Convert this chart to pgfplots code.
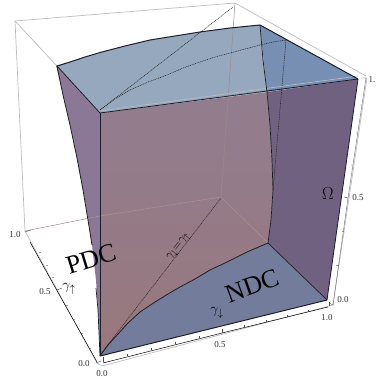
\documentclass[border=0pt]{standalone}
\usepackage{fontspec}
\setmainfont{Liberation Serif}
\usepackage{pgfplots}
\pgfplotsset{compat=1.18}
\definecolor{boxg}{RGB}{190,190,190}
\definecolor{topb}{RGB}{150,168,190}
\definecolor{topd}{RGB}{118,143,178}
\definecolor{leftp}{RGB}{138,120,150}
\definecolor{pinkA}{RGB}{146,125,143}
\definecolor{pinkB}{RGB}{152,120,125}
\definecolor{rightp}{RGB}{112,97,128}
\definecolor{floorb}{RGB}{115,125,155}
\definecolor{edge}{RGB}{30,30,40}
\begin{document}
\begin{tikzpicture}
\begin{axis}[scale only axis,width=377pt,height=380pt,xmin=0,xmax=377,ymin=0,ymax=380,y dir=reverse,
  axis lines=none,clip=false,unbounded coords=jump,tick style={draw=none}]
% page
\addplot[draw=none,fill=white,forget plot] coordinates {(0,0)(377,0)(377,380)(0,380)} --cycle;
% back box lines
\addplot[boxg,line width=.7pt] coordinates {(25,231)(15,21)(235,3)(366,76)};
\addplot[boxg,line width=.7pt] coordinates {(15,21)(57,66)};
% left face
\addplot[draw=none,fill=leftp] coordinates {(56,65)(100,113)(100,356)(98,310)(96,280)(92,245)(88,220)(83,190)(77,158)(70,125)(63,95)} --cycle;
% front pink
\addplot[draw=none,shade,top color=pinkA,bottom color=pinkB] coordinates {(100,113)(267,92)(270,125)(272,160)(273,190)(271,220)(268,243)(247,252)(225,263)(210,270)(195,279)(180,287)(168,294)(155,302)(140,312)(128,323)(118,334)(108,345)(100,356)} --cycle;
% right face
\addplot[draw=none,fill=rightp] coordinates {(267,92)(358,79)(327,300)(268,243)(271,220)(273,190)(272,160)(270,125)} --cycle;
% floor
\addplot[draw=none,fill=floorb] coordinates {(100,356)(108,345)(118,334)(128,323)(140,312)(155,302)(168,294)(180,287)(195,279)(210,270)(225,263)(247,252)(268,243)(327,300)} --cycle;
% top
\addplot[draw=none,fill=topb] coordinates {(57,66)(70,62)(85,57)(100,52.5)(125,46)(150,40)(175,36)(200,32)(230,28)(260,25)(267,92)(100,113)} --cycle;
\addplot[draw=none,fill=topd] coordinates {(260,25)(358,79)(267,92)} --cycle;
% box lines seen through
\addplot[gray!80!pink,line width=.5pt] coordinates {(235,3)(221,197)};
\addplot[gray!70!pink,line width=.5pt] coordinates {(25,231)(100,216)(221,197)(268,243)};
\addplot[boxg,line width=.6pt] coordinates {(100,111)(358,76)};
% dotted curves
\tikzset{dots/.style={black!85,line width=.55pt,dash pattern=on 1pt off .8pt}}
\addplot[dots] coordinates {(100,110)(233,7)};
\addplot[dots] coordinates {(100,110)(115,99)(130,90)(148,82)(167,75)(183,68)(200,62)(215,57)(230,53)(245,49)(260,45)(273,42)(286,40)};
\addplot[dots] coordinates {(286,40)(273,190)};
\addplot[dots] coordinates {(100,355)(221,198)};
% edges
\addplot[edge,line width=1pt] coordinates {(57,66)(70,62)(85,57)(100,52.5)(125,46)(150,40)(175,36)(200,32)(230,28)(260,25)(358,79)};
\addplot[edge,line width=.8pt] coordinates {(57,66)(100,113)(358,79)};
\addplot[edge,line width=.8pt] coordinates {(57,66)(63,95)(70,125)(77,158)(83,190)(88,220)(92,245)};
\addplot[edge,line width=.7pt] coordinates {(96,288)(98,310)(100,356)};
\addplot[edge,line width=.8pt] coordinates {(100,113)(100,356)};
\addplot[edge,line width=.8pt] coordinates {(358,79)(327,300)};
\addplot[edge,line width=.7pt] coordinates {(260,25)(263,60)(267,92)(270,125)(272,160)(273,190)(271,220)(268,243)};
\addplot[edge,line width=.8pt] coordinates {(100,356)(108,345)(118,334)(128,323)(140,312)(155,302)(168,294)(180,287)(195,279)(210,270)(225,263)(247,252)(268,243)};
\addplot[edge,line width=.7pt] coordinates {(268,243)(327,300)};
\addplot[edge,line width=1pt] coordinates {(100,356)(327,300)};
% axes
\addplot[boxg,line width=.7pt] coordinates {(25,231)(97,363)(102,366)(333,305)(367,78)};
\addplot[black,line width=.5pt] coordinates {(30,242)(60,296)(97,362)};
\addplot[black,line width=.5pt] coordinates {(103,363)(222,333)(328,307)};
\addplot[gray,line width=.5pt] coordinates {(333,305)(348,198)(366,78)};
% ticks
\addplot[black!70,line width=.4pt] coordinates {
 (25,232)(31,230) (nan,nan)(39,253)(41,252)(nan,nan)(46,266)(48,265)(nan,nan)(52,278)(54,277)(nan,nan)(57,290)(62,288)(nan,nan)
 (66,306)(68,305)(nan,nan)(73,320)(75,319)(nan,nan)(81,334)(83,333)(nan,nan)(89,349)(91,348)(nan,nan)(96,363)(101,361)};
\addplot[black!70,line width=.4pt] coordinates {
 (103,362)(103,357)(nan,nan)(127,356)(127,354)(nan,nan)(151,350)(151,348)(nan,nan)(175,344)(175,342)(nan,nan)(199,338)(199,336)(nan,nan)(222,333)(222,329)(nan,nan)
 (244,327)(244,325)(nan,nan)(266,322)(266,320)(nan,nan)(287,317)(287,315)(nan,nan)(308,312)(308,310)(nan,nan)(329,306)(329,302)};
\addplot[black!70,line width=.4pt] coordinates {
 (333,305)(329,303)(nan,nan)(339,266)(336,265)(nan,nan)(344,232)(342,231)(nan,nan)(348,198)(344,197)(nan,nan)(353,165)(351,165)(nan,nan)(358,133)(356,133)(nan,nan)(362,105)(360,105)(nan,nan)(367,78)(361,78)};
% labels
\tikzset{tl/.style={font=\fontsize{9}{9}\selectfont,text=black!80,inner sep=0pt}}
\node[tl] at (axis cs:372,80) {1.};
\node[tl] at (axis cs:358,198) {0.5};
\node[tl] at (axis cs:343,300) {0.0};
\node[tl] at (axis cs:102,374) {0.0};
\node[tl] at (axis cs:220,345) {0.5};
\node[tl] at (axis cs:327,318) {1.0};
\node[tl] at (axis cs:15,235) {1.0};
\node[tl] at (axis cs:45,292) {0.5};
\node[tl] at (axis cs:84,364) {0.0};
\node[inner sep=0pt,font=\fontsize{16}{17}\selectfont] at (axis cs:328,194) {$\Omega$};
\node[inner sep=0pt,font=\fontsize{26}{28}\selectfont,rotate=17] at (axis cs:91,259) {PDC};
\node[inner sep=0pt,font=\fontsize{26}{28}\selectfont,rotate=20] at (axis cs:252,286) {NDC};
\node[inner sep=0pt,font=\fontsize{15}{16}\selectfont] at (axis cs:69,289) {$\gamma_{\uparrow}$};
\node[inner sep=0pt,font=\fontsize{15}{16}\selectfont] at (axis cs:217,313) {$\gamma_{\downarrow}$};
\node[inner sep=0pt,font=\fontsize{13}{14}\selectfont,rotate=52] at (axis cs:179,247) {$\gamma_{\downarrow}{=}\gamma_{\uparrow}$};
\end{axis}
\end{tikzpicture}
\end{document}
